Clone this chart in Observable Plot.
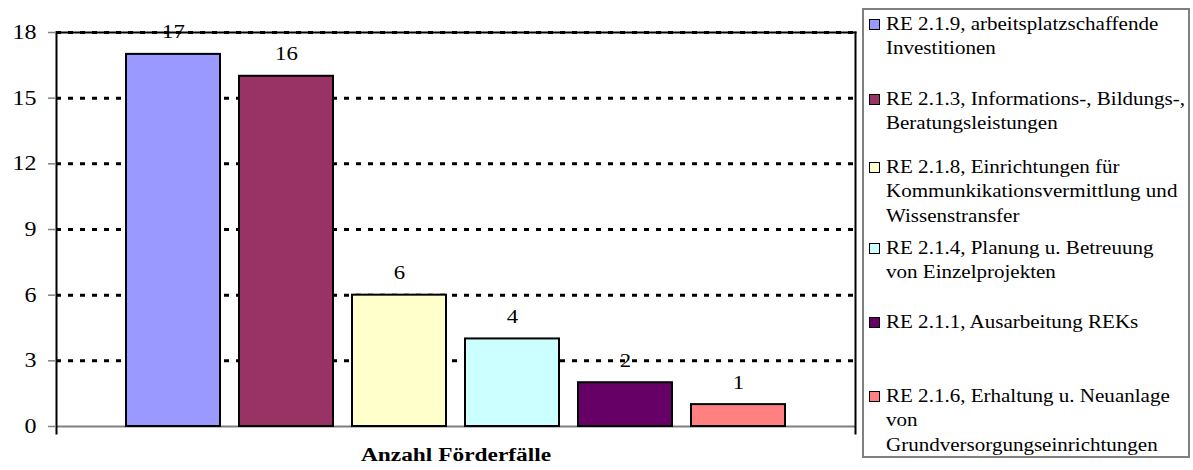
<!DOCTYPE html>
<html><head><meta charset="utf-8">
<script src="https://cdn.jsdelivr.net/npm/d3@7"></script>
<script src="https://cdn.jsdelivr.net/npm/@observablehq/plot@0.6"></script>
<style>
html,body{margin:0;padding:0;background:#fff;}
#wrap{position:relative;width:1193px;height:470px;font-family:"Liberation Serif","Times New Roman",serif;overflow:hidden;}
#wrap svg{position:absolute;left:0;top:0;}
#legend{position:absolute;left:862px;top:8px;width:328px;height:450px;box-sizing:border-box;border:2px solid #808080;background:#fff;}
.entry{position:absolute;left:0;width:100%;}
.sw{position:absolute;left:5px;width:11px;height:11px;box-sizing:border-box;border:1.5px solid #000;}
.lbl{position:absolute;left:22px;top:0;white-space:pre;font-size:18.3px;line-height:24.5px;transform:scaleX(1.15);transform-origin:0 0;color:#000;}
</style></head><body><div id="wrap"></div>
<script>
// ---- data ----
const categories = ["RE 2.1.9", "RE 2.1.3", "RE 2.1.8", "RE 2.1.4", "RE 2.1.1", "RE 2.1.6"];
const values = [17, 16, 6, 4, 2, 1];
const colors = ["#9999FF", "#993366", "#FFFFCC", "#CCFFFF", "#660066", "#FF8080"];
const legendLabels = [
  "RE 2.1.9, arbeitsplatzschaffende\nInvestitionen",
  "RE 2.1.3, Informations-, Bildungs-,\nBeratungsleistungen",
  "RE 2.1.8, Einrichtungen für\nKommunkikationsvermittlung und\nWissenstransfer",
  "RE 2.1.4, Planung u. Betreuung\nvon Einzelprojekten",
  "RE 2.1.1, Ausarbeitung REKs",
  "RE 2.1.6, Erhaltung u. Neuanlage\nvon\nGrundversorgungseinrichtungen"
];
const yTicks = [0, 3, 6, 9, 12, 15, 18];
const xTitle = "Anzahl Förderfälle";

// ---- layout ----
const legendTops = [1.7, 76.7, 144.7, 225.7, 299.7, 373.7];

const data = categories.map((c, i) => ({cat: c, value: values[i]}));

const chart = Plot.plot({
  width: 1193, height: 470,
  marginLeft: 56, marginRight: 338, marginTop: 32, marginBottom: 44,
  style: {fontFamily: '"Liberation Serif","Times New Roman",serif', background: "white", overflow: "visible", color: "#000"},
  x: {type: "band", domain: categories, paddingInner: 0.168, paddingOuter: 0.619, axis: null},
  y: {domain: [0, 18], axis: null},
  color: {domain: categories, range: colors},
  marks: [
    Plot.gridY(yTicks.filter(t => t > 0), {stroke: "#000", strokeOpacity: 1, strokeWidth: 3, strokeDasharray: "5,7"}),
    Plot.ruleY([0], {stroke: "#808080", strokeWidth: 2}),
    Plot.barY(data, {x: "cat", y: "value", fill: "cat", stroke: "#000", strokeWidth: 2}),
    Plot.frame({anchor: "top", stroke: "#000", strokeWidth: 2}),
    Plot.frame({anchor: "left", stroke: "#000", strokeWidth: 2, insetBottom: -7}),
    Plot.frame({anchor: "right", stroke: "#000", strokeWidth: 2, insetBottom: -7}),
    Plot.axisY(yTicks, {tickSize: 8, tickPadding: 12, fontSize: 20, stroke: "#808080", strokeWidth: 1.5, fill: "#000", label: null}),
    Plot.text(data, {x: "cat", y: "value", text: d => String(d.value), dy: -22, fontSize: 19, fill: "#000"}),
    Plot.text([xTitle], {frameAnchor: "bottom", dy: 34, fontWeight: "bold", fontSize: 19.5, fill: "#000"})
  ]
});

// horizontal stretch of the serif text, as in the reference rendering
chart.querySelectorAll("text").forEach(t => {
  const x = +(t.getAttribute("x") || 0);
  const tr = t.getAttribute("transform") || "";
  t.setAttribute("transform", `${tr} translate(${x},0) scale(1.2,1) translate(${-x},0)`);
});

const wrap = document.getElementById("wrap");
wrap.appendChild(chart);

const legend = document.createElement("div");
legend.id = "legend";
legendLabels.forEach((lab, i) => {
  const e = document.createElement("div");
  e.className = "entry";
  e.style.top = legendTops[i] + "px";
  const sw = document.createElement("div");
  sw.className = "sw";
  sw.style.top = "6.9px";
  sw.style.background = colors[i];
  const l = document.createElement("div");
  l.className = "lbl";
  l.textContent = lab;
  e.appendChild(sw);
  e.appendChild(l);
  legend.appendChild(e);
});
wrap.appendChild(legend);
</script></body></html>
